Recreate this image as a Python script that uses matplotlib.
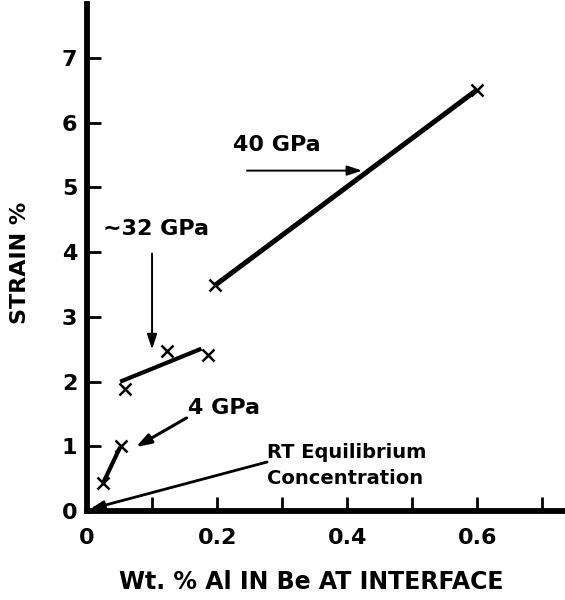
import matplotlib
matplotlib.use("Agg")
import matplotlib.pyplot as plt
from matplotlib.ticker import MultipleLocator

# Data (wt.% Al, strain %)
x40 = [0.197, 0.600]
y40 = [3.49, 6.51]
x40_pts = [0.197, 0.600]
y40_pts = [3.49, 6.51]

x32_line = [0.051, 0.176]
y32_line = [2.00, 2.51]
x32_pts = [0.059, 0.123, 0.186]
y32_pts = [1.88, 2.48, 2.42]

x4 = [0.025, 0.051]
y4 = [0.44, 0.99]
x4_pts = [0.025, 0.052]
y4_pts = [0.43, 1.00]

xticks_major = [0, 0.2, 0.4, 0.6]
xtick_labels = ["0", "0.2", "0.4", "0.6"]
yticks = [0, 1, 2, 3, 4, 5, 6, 7]

plt.rcParams['font.family'] = ['DejaVu Sans']

fig = plt.figure(figsize=(5.65, 6.0), dpi=100)
ax = fig.add_axes([0.154, 0.148, 0.846, 0.845])
ax.set_xlim(0, 0.735)
ax.set_ylim(0, 7.83)

ax.plot(x40, y40, color='black', lw=3.6, solid_capstyle='butt')
ax.plot(x40_pts, y40_pts, 'x', color='black', ms=8, mew=1.8)
ax.plot(x32_line, y32_line, color='black', lw=3.0, solid_capstyle='butt')
ax.plot(x32_pts, y32_pts, 'x', color='black', ms=8, mew=1.8)
ax.plot(x4, y4, color='black', lw=3.0, solid_capstyle='butt')
ax.plot(x4_pts, y4_pts, 'x', color='black', ms=8, mew=1.8)

for s in ['top', 'right']:
    ax.spines[s].set_visible(False)
for s in ['left', 'bottom']:
    ax.spines[s].set_linewidth(4.2)

ax.set_xticks(xticks_major)
ax.set_xticklabels(xtick_labels)
ax.xaxis.set_minor_locator(MultipleLocator(0.1))
ax.set_yticks(yticks)
ax.tick_params(axis='both', which='both', direction='in', length=10, width=2.0, labelsize=16)
ax.tick_params(axis='x', which='major', pad=12)
ax.tick_params(axis='y', which='major', pad=7)
for lbl in ax.get_xticklabels() + ax.get_yticklabels():
    lbl.set_fontweight('bold')

ax.set_xlabel("Wt. % Al IN Be AT INTERFACE", fontsize=17, fontweight='bold')
ax.set_ylabel("STRAIN %", fontsize=16, fontweight='bold')
ax.xaxis.set_label_coords(0.47, -0.14)
ax.xaxis.label.set_va('center')
ax.yaxis.set_label_coords(-0.14, 0.49)
ax.yaxis.label.set_va('center')

arrow = dict(arrowstyle='-|>,head_length=0.9,head_width=0.3', color='black', lw=1.4, shrinkA=0, shrinkB=0)
ax.text(0.225, 5.65, "40 GPa", fontsize=16, va='center', ha='left', fontweight='bold')
ax.annotate("", xy=(0.423, 5.26), xytext=(0.246, 5.26), arrowprops=arrow)

ax.text(0.025, 4.36, "~32 GPa", fontsize=16, va='center', ha='left', fontweight='bold')
ax.annotate("", xy=(0.100, 2.50), xytext=(0.100, 3.98), arrowprops=arrow)

ax.text(0.155, 1.60, "4 GPa", fontsize=16, va='center', ha='left', fontweight='bold')
ax.annotate("", xy=(0.075, 0.99), xytext=(0.153, 1.44),
            arrowprops=dict(arrowstyle='-|>,head_length=0.9,head_width=0.3', color='black', lw=2.2, shrinkA=0, shrinkB=0))

ax.annotate("", xy=(0.004, 0.03), xytext=(0.277, 0.76),
            arrowprops=dict(arrowstyle='-|>,head_length=0.8,head_width=0.25', color='black', lw=2.0, shrinkA=0, shrinkB=0))
ax.text(0.276, 0.91, "RT Equilibrium", fontsize=14, va='center', ha='left', fontweight='bold')
ax.text(0.276, 0.51, "Concentration", fontsize=14, va='center', ha='left', fontweight='bold')

fig.savefig("out.png", dpi=100)
